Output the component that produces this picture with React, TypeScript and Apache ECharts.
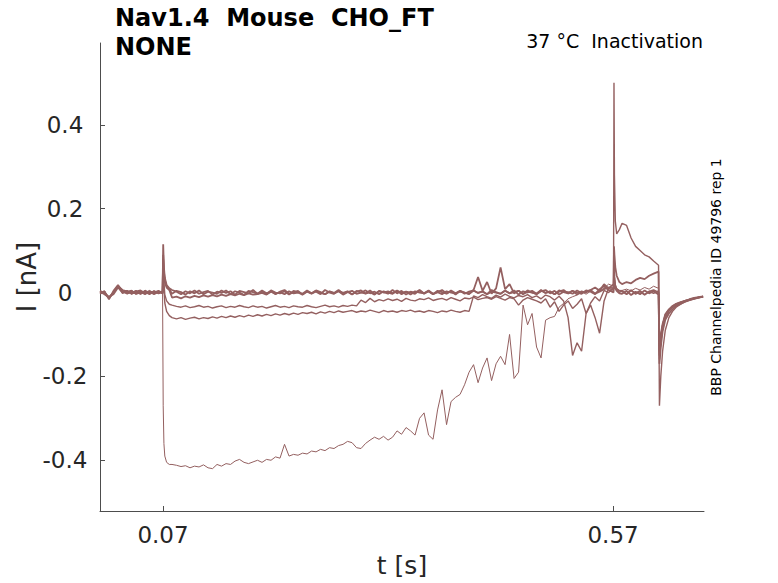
import React, { useEffect, useRef } from "react";
import * as echarts from "echarts";

// Shared sample times [s]
const TIME: number[] = [
  0, 0.005, 0.01, 0.015, 0.02, 0.025, 0.03, 0.035, 0.04, 0.045, 0.05, 0.055, 0.06, 0.065, 0.0695,
  0.0702, 0.071, 0.072, 0.074, 0.077,
  0.08, 0.085, 0.09, 0.095, 0.1, 0.105, 0.11, 0.115, 0.12, 0.125,
  0.13, 0.135, 0.14, 0.145, 0.15, 0.155, 0.16, 0.165, 0.17, 0.175,
  0.18, 0.185, 0.19, 0.195, 0.2, 0.205, 0.21, 0.215, 0.22, 0.225,
  0.23, 0.235, 0.24, 0.245, 0.25, 0.255, 0.26, 0.265, 0.27, 0.275,
  0.28, 0.285, 0.29, 0.295, 0.3, 0.305, 0.31, 0.315, 0.32, 0.325,
  0.33, 0.335, 0.34, 0.345, 0.35, 0.355, 0.36, 0.365, 0.37, 0.375,
  0.38, 0.385, 0.39, 0.395, 0.4, 0.405, 0.41, 0.415, 0.42, 0.425,
  0.43, 0.435, 0.44, 0.445, 0.45, 0.455, 0.46, 0.465, 0.47, 0.475,
  0.48, 0.485, 0.49, 0.495, 0.5, 0.505, 0.51, 0.515, 0.52, 0.525,
  0.53, 0.535, 0.54, 0.545, 0.55, 0.555, 0.56, 0.565,
  0.5705, 0.571, 0.5715, 0.5725, 0.574, 0.577,
  0.58, 0.585, 0.59, 0.595, 0.6, 0.605, 0.61, 0.615, 0.6205,
  0.6215, 0.623, 0.625, 0.628, 0.632, 0.636, 0.64, 0.645, 0.65, 0.655, 0.66, 0.665, 0.67,
];

// Current traces [nA]
const TRACE_BASE1: number[] = [
  0.002, -0.004, -0.012, 0.0, 0.015, 0.006, 0.003, -0.002, 0.004, -0.003, 0.002, -0.004, 0.003, -0.002, 0.001,
  0.115, 0.06, 0.035, 0.018, 0.01,
  0.006, 0.002, -0.004, 0.003, -0.002, 0.005, -0.003, 0.001, 0.004, -0.005,
  0.002, -0.001, 0.005, -0.004, 0.003, 0.0, -0.006, 0.004, 0.001, -0.003,
  0.005, -0.002, 0.003, -0.004, 0.002, 0.006, -0.003, 0.0, 0.004, -0.005,
  0.003, -0.002, 0.005, 0.001, -0.004, 0.003, -0.001, 0.006, -0.003, 0.002,
  -0.005, 0.004, 0.0, -0.002, 0.005, -0.004, 0.003, 0.001, -0.003, 0.006,
  -0.002, 0.004, -0.005, 0.002, 0.0, 0.005, -0.003, 0.003, -0.004, 0.001,
  0.006, -0.002, 0.003, -0.005, 0.004, 0.0, -0.003, 0.005, -0.001, 0.002,
  -0.004, 0.006, 0.001, -0.003, 0.004, -0.002, 0.005, -0.005, 0.003, 0.0,
  0.004, -0.003, 0.006, -0.001, 0.002, -0.004, 0.005, 0.001, -0.002, 0.004,
  -0.005, 0.003, 0.0, 0.006, -0.003, 0.002, 0.008, 0.012,
  0.01, 0.04, 0.03, 0.015, 0.008, 0.004,
  0.003, -0.004, 0.005, -0.002, 0.004, -0.005, 0.002, 0.006, 0.0,
  -0.15, -0.11, -0.08, -0.055, -0.042, -0.034, -0.028, -0.024, -0.02, -0.017, -0.014, -0.012, -0.01,
];

const TRACE_BASE2: number[] = [
  -0.003, 0.002, -0.016, 0.004, 0.018, 0.003, -0.002, 0.004, -0.003, 0.002, -0.004, 0.003, 0.0, 0.004, -0.002,
  0.09, 0.05, 0.03, 0.015, 0.008,
  -0.003, 0.004, 0.001, -0.005, 0.003, -0.002, 0.005, -0.004, 0.002, 0.0,
  -0.003, 0.005, -0.001, 0.003, -0.005, 0.004, 0.001, -0.002, 0.006, -0.003,
  0.002, -0.004, 0.005, 0.0, -0.002, 0.003, -0.005, 0.004, 0.001, -0.003,
  0.005, -0.002, 0.002, -0.004, 0.006, 0.0, -0.003, 0.004, -0.001, 0.003,
  -0.004, 0.002, 0.005, -0.003, 0.001, -0.005, 0.004, 0.0, 0.003, -0.002,
  0.005, -0.004, 0.002, 0.0, -0.003, 0.006, -0.002, 0.003, -0.004, 0.004,
  0.001, -0.003, 0.005, -0.002, 0.002, 0.0, -0.004, 0.006, 0.037, 0.004,
  0.025, -0.003, 0.01, 0.06, 0.008, 0.02, -0.002, 0.004, -0.003, 0.005,
  0.0, -0.004, 0.003, 0.006, -0.002, 0.004, -0.005, 0.002, 0.001, -0.003,
  0.005, -0.001, 0.003, 0.006, 0.012, 0.004, 0.02, 0.01,
  0.02, 0.11, 0.09, 0.06, 0.04, 0.025,
  0.02, 0.025, 0.022, 0.03, 0.035, 0.032, 0.04, 0.045, 0.05,
  -0.17, -0.13, -0.093, -0.065, -0.05, -0.04, -0.032, -0.027, -0.022, -0.018, -0.015, -0.012, -0.01,
];

const TRACE_BASE3: number[] = [
  0.004, -0.002, -0.01, -0.004, 0.012, 0.0, 0.004, -0.003, 0.002, 0.005, -0.002, 0.003, -0.004, 0.002, 0.0,
  0.08, 0.045, 0.025, 0.012, 0.006,
  -0.012, -0.01, -0.014, -0.009, -0.012, -0.008, -0.011, -0.007, -0.01, -0.006,
  -0.009, -0.005, -0.008, -0.004, -0.007, -0.003, -0.006, -0.002, -0.005, -0.004,
  -0.001, -0.005, 0.002, -0.003, 0.001, -0.004, 0.003, -0.002, 0.0, -0.005,
  0.002, -0.003, 0.004, -0.001, -0.004, 0.002, -0.002, 0.003, -0.005, 0.001,
  0.004, -0.003, 0.0, 0.005, -0.002, 0.002, -0.004, 0.003, 0.0, -0.003,
  0.004, -0.001, 0.002, -0.005, 0.003, 0.0, -0.002, 0.005, -0.003, 0.001,
  -0.004, 0.003, 0.0, -0.002, 0.004, -0.003, 0.002, 0.005, -0.001, 0.003,
  -0.004, 0.002, 0.0, -0.003, 0.005, -0.002, 0.001, 0.004, -0.004, 0.002,
  0.0, -0.003, 0.005, -0.001, 0.003, -0.004, 0.002, 0.006, -0.002, 0.004,
  0.0, -0.003, 0.005, 0.002, -0.004, 0.008, 0.015, 0.006,
  0.0, 0.03, 0.02, 0.01, 0.004, -0.002,
  -0.003, 0.004, -0.006, 0.002, -0.004, 0.005, -0.002, 0.003, -0.005,
  -0.14, -0.1, -0.075, -0.052, -0.04, -0.032, -0.027, -0.023, -0.02, -0.016, -0.013, -0.011, -0.009,
];

const TRACE_D: number[] = [
  -0.002, 0.003, -0.014, 0.002, 0.014, -0.002, 0.002, 0.005, -0.004, 0.0, 0.003, -0.003, 0.004, -0.001, 0.003,
  0.07, 0.025, -0.005, -0.02, -0.028,
  -0.03, -0.033, -0.035, -0.032, -0.036, -0.034, -0.031, -0.035, -0.033, -0.037,
  -0.034, -0.032, -0.036, -0.033, -0.035, -0.031, -0.034, -0.036, -0.032, -0.035,
  -0.033, -0.037, -0.034, -0.031, -0.035, -0.033, -0.036, -0.032, -0.034, -0.035,
  -0.031, -0.034, -0.036, -0.033, -0.03, -0.034, -0.032, -0.035, -0.031, -0.033,
  -0.03, -0.032, -0.018, -0.024, -0.014, -0.022, -0.017, -0.02, -0.015, -0.019,
  -0.016, -0.021, -0.014, -0.018, -0.02, -0.015, -0.017, -0.013, -0.019, -0.016,
  -0.014, -0.018, -0.012, -0.016, -0.02, -0.013, -0.015, -0.011, -0.017, -0.014,
  -0.012, -0.016, -0.01, -0.014, -0.018, -0.012, -0.015, -0.03, -0.018, -0.012,
  -0.016, -0.02, -0.025, -0.015, -0.035, -0.022, -0.045, -0.03, -0.02, -0.038,
  -0.028, -0.015, -0.05, -0.025, -0.01, -0.02, 0.005, 0.0,
  0.01, 0.5, 0.28, 0.17, 0.14, 0.15,
  0.165, 0.16, 0.13, 0.11, 0.1, 0.09, 0.085, 0.075, 0.065,
  -0.27, -0.2, -0.14, -0.09, -0.06, -0.045, -0.035, -0.028, -0.022, -0.018, -0.015, -0.012, -0.01,
];

const TRACE_E: number[] = [
  0.003, -0.003, -0.012, 0.001, 0.016, 0.004, -0.003, 0.001, 0.003, -0.004, 0.005, 0.0, -0.002, 0.003, -0.003,
  0.06, 0.01, -0.025, -0.045, -0.055,
  -0.06, -0.063, -0.06, -0.064, -0.061, -0.059, -0.063, -0.06, -0.062, -0.058,
  -0.061, -0.057, -0.06, -0.056, -0.059, -0.055, -0.058, -0.054, -0.057, -0.053,
  -0.056, -0.052, -0.055, -0.051, -0.054, -0.05, -0.053, -0.049, -0.052, -0.048,
  -0.05, -0.047, -0.051, -0.046, -0.049, -0.045, -0.048, -0.044, -0.047, -0.045,
  -0.043, -0.047, -0.044, -0.046, -0.042, -0.045, -0.048, -0.043, -0.046, -0.044,
  -0.047, -0.043, -0.045, -0.042, -0.046, -0.044, -0.047, -0.043, -0.045, -0.048,
  -0.044, -0.046, -0.042, -0.045, -0.047, -0.043, -0.045, -0.008, -0.012, -0.005,
  -0.01, -0.014, -0.006, -0.011, -0.004, -0.009, -0.013, -0.007, -0.01, -0.005,
  -0.012, -0.008, -0.015, -0.006, -0.01, -0.018, -0.009, -0.02, -0.06, -0.15,
  -0.12, -0.14, -0.05, -0.03, -0.06, -0.097, -0.02, 0.01,
  0.005, 0.05, 0.03, 0.012, 0.005, 0.0,
  0.004, -0.003, 0.006, -0.004, 0.002, -0.006, 0.003, -0.002, 0.004,
  -0.16, -0.12, -0.085, -0.06, -0.045, -0.036, -0.03, -0.025, -0.021, -0.017, -0.014, -0.012, -0.01,
];

const TRACE_F: number[] = [
  0.0, 0.004, -0.015, -0.002, 0.013, 0.002, 0.005, -0.004, 0.0, 0.003, -0.002, 0.005, -0.003, 0.0, 0.002,
  -0.27, -0.36, -0.39, -0.405, -0.41,
  -0.41, -0.412, -0.415, -0.413, -0.418, -0.414, -0.416, -0.411, -0.418, -0.42,
  -0.41, -0.414, -0.408, -0.41, -0.402, -0.398, -0.405, -0.408, -0.404, -0.4,
  -0.405, -0.398, -0.4, -0.392, -0.395, -0.362, -0.39, -0.386, -0.388, -0.383,
  -0.385, -0.378, -0.38, -0.374, -0.377, -0.37, -0.372, -0.365, -0.362, -0.355,
  -0.358, -0.37, -0.372, -0.36, -0.352, -0.345, -0.35, -0.343, -0.352, -0.345,
  -0.33, -0.338, -0.322, -0.33, -0.34, -0.3, -0.287, -0.34, -0.35, -0.28,
  -0.232, -0.315, -0.26, -0.25, -0.243, -0.22, -0.19, -0.172, -0.215, -0.18,
  -0.156, -0.21, -0.17, -0.152, -0.172, -0.1, -0.205, -0.19, -0.03, -0.077,
  -0.05, -0.13, -0.156, -0.066, -0.06, -0.057, -0.035, -0.026, -0.015, -0.01,
  -0.006, 0.002, -0.004, 0.003, -0.002, 0.004, 0.01, 0.02,
  0.015, 0.08, 0.05, 0.02, 0.01, 0.005,
  0.005, 0.008, 0.004, 0.01, 0.006, 0.012, 0.008, 0.015, 0.01,
  -0.13, -0.1, -0.075, -0.052, -0.04, -0.032, -0.027, -0.023, -0.019, -0.016, -0.013, -0.011, -0.009,
];

const TRACES: number[][] = [TRACE_F, TRACE_E, TRACE_D, TRACE_BASE3, TRACE_BASE2, TRACE_BASE1];
const TRACE_WIDTHS: number[] = [1.0, 1.4, 1.4, 1.8, 1.8, 1.8];

const X_TICKS: number[] = [0.07, 0.57];
const Y_TICKS: number[] = [-0.4, -0.2, 0, 0.2, 0.4];

const TITLE_LINE1 = "Nav1.4  Mouse  CHO_FT";
const TITLE_LINE2 = "NONE";
const CONDITION = "37 °C  Inactivation";
const SIDE_NOTE = "BBP Channelpedia ID 49796 rep 1";

const TRACE_COLOR = "#946060";
const AXIS_COLOR = "#4d4d4d";
const TEXT_COLOR = "#262626";
const FONT = "DejaVu Sans";

export default function App() {
  const ref = useRef<HTMLDivElement>(null);

  useEffect(() => {
    if (!ref.current) return;
    const chart = echarts.init(ref.current, undefined, { renderer: "svg" });

    const series = TRACES.map((vals, idx) => ({
      type: "line",
      name: "trace" + idx,
      data: TIME.map((t, i) => [t, vals[i]]).filter((p) => p[1] !== undefined),
      showSymbol: false,
      symbol: "none",
      silent: true,
      clip: true,
      lineStyle: { width: TRACE_WIDTHS[idx], color: TRACE_COLOR },
    }));

    chart.setOption({
      animation: false,
      grid: { left: 100, right: 74, top: 43, bottom: 70, containLabel: false },
      xAxis: {
        type: "value",
        min: 0,
        max: 0.671,
        name: "t [s]",
        nameLocation: "middle",
        nameGap: 42,
        nameMoveOverlap: false,
        nameTextStyle: { fontFamily: FONT, fontSize: 25, color: TEXT_COLOR },
        axisLine: { show: true, onZero: false, lineStyle: { color: AXIS_COLOR, width: 1 } },
        axisTick: { show: true, inside: true, length: 5, customValues: X_TICKS, lineStyle: { color: AXIS_COLOR } },
        axisLabel: {
          customValues: X_TICKS,
          formatter: (v: number) => v.toFixed(2),
          fontFamily: FONT,
          fontSize: 23,
          color: TEXT_COLOR,
          margin: 12,
        },
        splitLine: { show: false },
      },
      yAxis: {
        type: "value",
        min: -0.521,
        max: 0.595,
        name: "I [nA]",
        nameLocation: "middle",
        nameGap: 60,
        nameMoveOverlap: false,
        nameTextStyle: { fontFamily: FONT, fontSize: 26, color: TEXT_COLOR },
        axisLine: { show: true, onZero: false, lineStyle: { color: AXIS_COLOR, width: 1 } },
        axisTick: { show: true, inside: true, length: 5, customValues: Y_TICKS, lineStyle: { color: AXIS_COLOR } },
        axisLabel: {
          customValues: Y_TICKS,
          formatter: (v: number) => (v === 0 ? "0" : String(v)),
          fontFamily: FONT,
          fontSize: 23,
          color: TEXT_COLOR,
          align: "center",
          margin: 35,
        },
        splitLine: { show: false },
      },
      graphic: [
        {
          type: "text",
          left: 115,
          top: 6,
          style: { text: TITLE_LINE1, fontFamily: FONT, fontSize: 24, fontWeight: "bold", fill: "#000" },
        },
        {
          type: "text",
          left: 115,
          top: 35,
          style: { text: TITLE_LINE2, fontFamily: FONT, fontSize: 24, fontWeight: "bold", fill: "#000" },
        },
        {
          type: "text",
          x: 703,
          y: 41,
          style: {
            text: CONDITION,
            fontFamily: FONT,
            fontSize: 19,
            fill: "#000",
            align: "right",
            verticalAlign: "middle",
          },
        },
        {
          type: "text",
          x: 716,
          y: 277,
          rotation: Math.PI / 2,
          style: {
            text: SIDE_NOTE,
            fontFamily: FONT,
            fontSize: 14,
            fill: "#000",
            align: "center",
            verticalAlign: "middle",
          },
        },
      ],
      series,
    });

    return () => chart.dispose();
  }, []);

  return (
    <div
      ref={ref}
      style={{ position: "fixed", left: 0, top: 0, width: 778, height: 583, background: "#fff" }}
    />
  );
}
